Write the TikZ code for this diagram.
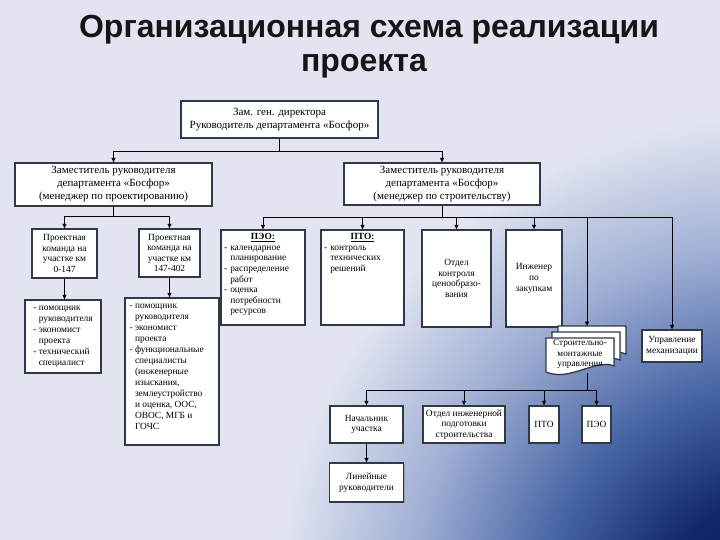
\documentclass[tikz,border=0pt]{standalone}
\usepackage{fontspec}
\setmainfont{Liberation Serif}
\newfontfamily\titlefont{Liberation Sans}
\usetikzlibrary{arrows.meta,shadows}
\definecolor{bglight}{HTML}{E2E5F1}
\definecolor{boxline}{HTML}{303A45}
\definecolor{titlecol}{HTML}{151515}
\pgfdeclareradialshading{bgrad}{\pgfpoint{0bp}{0bp}}{rgb(0bp)=(0.03,0.08,0.30); rgb(5bp)=(0.07,0.16,0.42); rgb(10bp)=(0.27,0.39,0.64); rgb(16bp)=(0.62,0.68,0.83); rgb(22bp)=(0.886,0.898,0.945); rgb(25bp)=(0.886,0.898,0.945); rgb(50bp)=(0.886,0.898,0.945)}
\newcommand\hind{\phantom{- }}
\tikzset{
  shad/.style={drop shadow={shadow xshift=1.2pt, shadow yshift=-1.2pt, opacity=0.35, fill=black!60}},
  box/.style={shad, draw=boxline, line width=1.3pt, fill=white, inner sep=1pt, align=center, font=\fontsize{9.4}{10.6}\selectfont},
  bigbox/.style={box, font=\fontsize{11}{13}\selectfont},
  txt/.style={inner sep=0pt, align=left, font=\fontsize{9.4}{10.6}\selectfont},
  conn/.style={draw=black, line width=0.9pt},
  arr/.style={conn, -{Triangle[length=4.5pt,width=4pt]}},
  ttl/.style={font=\titlefont\bfseries\fontsize{32}{36}\selectfont, text=titlecol, inner sep=0pt}
}
\begin{document}
\begin{tikzpicture}[x=1pt,y=-1pt]
\useasboundingbox (0,0) rectangle (720,540);
\fill[bglight] (0,0) rectangle (720,540);
\begin{scope}
  \clip (0,0) rectangle (720,540);
  \shade[shading=bgrad] (770,610) circle[radius=560pt];
\end{scope}

% title
\node[ttl, anchor=base] (t1) at (369,38) {Организационная схема реализации};
\node[ttl, anchor=base] (t2) at (364,72) {проекта};

% level 1-2
\node[bigbox, minimum width=197pt, minimum height=37pt] (top) at (279.5,119.5) {Зам. ген. директора\\Руководитель департамента «Босфор»};
\node[bigbox, minimum width=197pt, minimum height=43pt] (dl) at (113.5,184.5) {Заместитель руководителя\\департамента «Босфор»\\(менеджер по проектированию)};
\node[bigbox, minimum width=196pt, minimum height=42pt] (dr) at (442,184) {Заместитель руководителя\\департамента «Босфор»\\(менеджер по строительству)};

% design branch
\node[box, minimum width=65pt, minimum height=49pt] (pk1) at (64.5,253.5) {Проектная\\команда на\\участке км\\0-147};
\node[box, minimum width=61pt, minimum height=48pt] (pk2) at (169.5,253) {Проектная\\команда на\\участке км\\147-402};
\node[box, minimum width=76pt, minimum height=73pt, align=left, font=\fontsize{9.4}{11}\selectfont] (l1) at (63,336.5) {- помощник\\\hind руководителя\\- экономист\\\hind проекта\\- технический\\\hind специалист};
\node[box, minimum width=94pt, minimum height=147pt] (l2) at (172,371.5) {};
\node[txt, anchor=north west, font=\fontsize{9.4}{11}\selectfont] (l2t) at ([xshift=5pt,yshift=-7pt]l2.north west) {- помощник\\\hind руководителя\\- экономист\\\hind проекта\\- функциональные\\\hind специалисты\\\hind (инженерные\\\hind изыскания,\\\hind землеустройство\\\hind и оценка, ООС,\\\hind ОВОС, МГБ и\\\hind ГОЧС};

% construction branch row 3
\node[box, minimum width=84pt, minimum height=95pt] (peo) at (263,277.5) {};
\node[txt, anchor=north, text width=78pt] (peot) at ([yshift=-4pt]peo.north) {\makebox[\linewidth]{\textbf{\underline{ПЭО:}}}\\- календарное\\\hind планирование\\- распределение\\\hind работ\\- оценка\\\hind потребности\\\hind ресурсов};
\node[box, minimum width=83pt, minimum height=95pt] (pto) at (362.5,277.5) {};
\node[txt, anchor=north, text width=77pt] (ptot) at ([yshift=-4pt]pto.north) {\makebox[\linewidth]{\textbf{\underline{ПТО:}}}\\- контроль\\\hind технических\\\hind решений};
\node[box, minimum width=69pt, minimum height=97pt] (okc) at (456.5,278.5) {Отдел\\контроля\\ценообразо-\\вания};
\node[box, minimum width=56pt, minimum height=97pt] (inz) at (534,278.5) {Инженер\\по\\закупкам};
\node[box, minimum width=60pt, minimum height=32pt] (mech) at (672,346) {Управление\\механизации};

% stacked documents
\foreach \dx/\dy in {12/-12, 6/-6, 0/0}{
  \filldraw[shad, draw=boxline, line width=1.2pt, fill=white]
    (546+\dx,338+\dy) -- (614+\dx,338+\dy) -- (614+\dx,366+\dy)
    .. controls (596+\dx,358+\dy) and (570+\dx,382+\dy) .. (546+\dx,372+\dy) -- cycle;
}
\node[inner sep=0pt, align=center, font=\fontsize{9.2}{10.4}\selectfont] (smu) at (580,354) {Строительно-\\монтажные\\управления};
\coordinate (stk) at (587,326);
\coordinate (stkb) at (587,373);

% row 4-5
\node[box, minimum width=73pt, minimum height=37pt] (nu) at (366.5,424.5) {Начальник\\участка};
\node[box, minimum width=82pt, minimum height=37pt] (oip) at (464,424.5) {Отдел инженерной\\подготовки\\строительства};
\node[box, minimum width=30pt, minimum height=37pt] (pto2) at (544,424.5) {ПТО};
\node[box, minimum width=29pt, minimum height=37pt] (peo2) at (596.5,424.5) {ПЭО};
\node[box, minimum width=74pt, minimum height=39pt] (lr) at (366.5,482.5) {Линейные\\руководители};

% connectors
\coordinate (b0) at (279.5,151);
\draw[conn] (top.south) -- (b0);
\draw[arr] (b0) -| (dl.north);
\draw[arr] (b0) -| (dr.north);

\coordinate (b1) at (113.5,216);
\draw[conn] (dl.south) -- (b1);
\draw[arr] (b1) -| (pk1.north);
\draw[arr] (b1) -| (pk2.north);
\draw[arr] (pk1.south) -- (pk1.south |- l1.north);
\draw[arr] (pk2.south) -- (pk2.south |- l2.north);

\coordinate (b2) at (442,217);
\draw[conn] (dr.south) -- (b2);
\draw[arr] (b2) -| (peo.north);
\draw[arr] (b2) -| (pto.north);
\draw[arr] (b2) -| (okc.north);
\draw[arr] (b2) -| (inz.north);
\draw[arr] (b2) -| (stk);
\draw[arr] (b2) -| (mech.north);

\coordinate (b3) at (587,390);
\draw[conn] (stkb) -- (b3);
\draw[arr] (b3) -| (nu.north);
\draw[arr] (b3) -| (oip.north);
\draw[arr] (b3) -| (pto2.north);
\draw[arr] (b3) -| (peo2.north);
\draw[arr] (nu.south) -- (lr.north);
\end{tikzpicture}
\end{document}
